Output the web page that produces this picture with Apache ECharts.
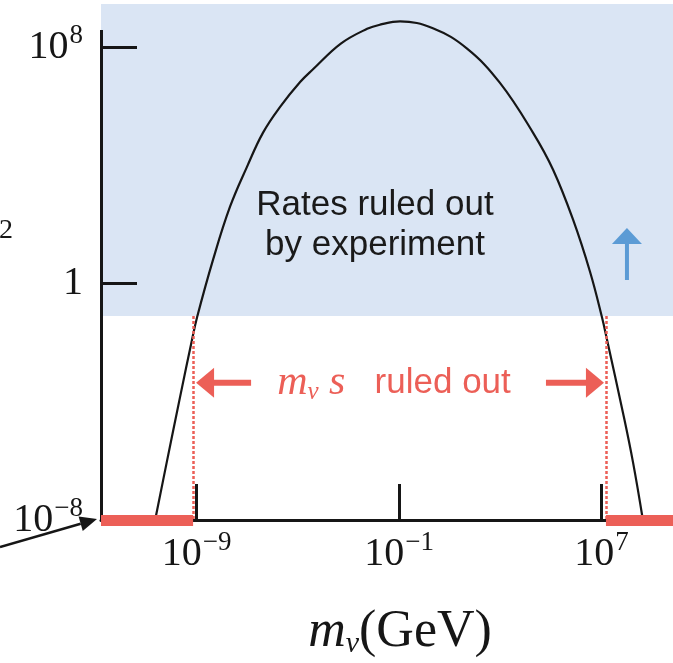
<!DOCTYPE html>
<html>
<head>
<meta charset="utf-8">
<script src="https://cdn.jsdelivr.net/npm/echarts@6/dist/echarts.min.js"></script>
<style>
  html, body { margin: 0; padding: 0; background: #fff; }
  #chart { width: 673px; height: 663px; }
</style>
</head>
<body>
<div id="chart"></div>
<script>
// Rate curve, both coordinates as log10 values (mass in GeV, rate)
const massExp = [-10.64, -10.17, -9.66, -9.18, -8.98, -8.35, -7.68, -7.01, -6.38, -5.70, -4.91, -4.40, -3.30, -2.26, -1.75, -0.96,
                 0.34, 1.69, 2.99, 4.30, 5.09, 5.88, 6.55, 7.02, 7.22, 7.85, 8.25, 8.64];
const rateExp = [-8.0, -6.0, -3.86, -1.89, -1.13, 0.81, 2.60, 3.95, 5.10, 5.98, 6.82, 7.25, 8.12, 8.62, 8.76, 8.87,
                 8.64, 7.95, 6.79, 5.10, 3.85, 2.16, 0.40, -1.13, -1.89, -4.36, -6.05, -8.0];

// Experimental bound on the rate and the masses it excludes (log10)
const rateBound = -1.1;
const excludedBelow = -9.14;
const excludedAbove = 7.18;

// Tick values (log10)
const xTickExp = [-9, -1, 7];
const yTickExp = [-8, 0, 8];
const yTickMarks = [0, 8];

// Axis extents (log10)
const xMin = -12.78, xMax = 9.83;
const yMin = -8, yMax = 9.46;
const yAxisTop = 8.58;

// Annotation anchors (log10 data coordinates)
const boundCaptionAt = [-1.95, 1.98];
const massCaptionAt = [-1.2, -3.36];
const upArrowTipAt = [8.01, 1.88];

const INK = '#161616';
const RED = '#ec5f57';
const BAND = '#dae5f4';
const BLUE = '#5b9bd5';

const expLabel = v => {
  const n = Math.round(v);
  return n === 0 ? '{b|1}' : '{b|10}{s|' + (n < 0 ? '\u2212' + (-n) : n) + '}';
};
const tickRich = {
  b: { fontFamily: 'Liberation Serif', fontSize: 40, lineHeight: 40, padding: [12, 0, 12, 0], color: INK },
  s: { fontFamily: 'Liberation Serif', fontSize: 27, lineHeight: 27, padding: [0, 0, 23, 1], color: INK }
};

const chart = echarts.init(document.getElementById('chart'), null, { renderer: 'canvas' });

const curve = massExp.map((m, i) => [m, rateExp[i]]);

chart.setOption({
  animation: false,
  backgroundColor: '#fff',
  grid: { left: 101, right: 0, top: 4, bottom: 143 },
  xAxis: {
    type: 'value', min: xMin, max: xMax,
    splitLine: { show: false },
    axisLine: { onZero: false, lineStyle: { color: INK, width: 3 } },
    axisTick: { customValues: xTickExp, inside: true, length: 36, lineStyle: { color: INK, width: 3 } },
    axisLabel: { customValues: xTickExp, margin: 14, formatter: expLabel, rich: tickRich }
  },
  yAxis: {
    type: 'value', min: yMin, max: yMax, z: 5,
    splitLine: { show: false },
    axisLine: { show: true, onZero: false, lineStyle: { color: 'rgba(0,0,0,0)', width: 0 } },
    axisTick: { show: true, customValues: yTickMarks, inside: true, length: 36, lineStyle: { color: INK, width: 3 } },
    axisLabel: { customValues: yTickExp, margin: 18, formatter: expLabel, rich: tickRich }
  },
  series: [
    {
      // excluded-rate band
      type: 'line', data: [[xMin, yMin]], showSymbol: false, silent: true, z: 1,
      lineStyle: { width: 0 },
      markArea: { silent: true, itemStyle: { color: BAND }, data: [[{ yAxis: rateBound }, { yAxis: yMax }]] }
    },
    {
      type: 'line', data: curve, smooth: 0.4, showSymbol: false, silent: true, clip: false, z: 3,
      lineStyle: { color: INK, width: 2.2 }
    },
    {
      // vertical axis line, excluded mass ranges and their edges
      type: 'line', data: [[xMin, yMin]], showSymbol: false, silent: true, clip: false, z: 6,
      lineStyle: { width: 0 },
      markLine: {
        silent: true, symbol: 'none', label: { show: false }, animation: false,
        data: [
          [{ coord: [xMin, yMin], lineStyle: { color: INK, width: 3, type: 'solid' } }, { coord: [xMin, yAxisTop] }],
          [{ coord: [xMin, yMin], lineStyle: { color: RED, width: 11, type: 'solid', cap: 'butt' } }, { coord: [excludedBelow, yMin] }],
          [{ coord: [excludedAbove, yMin], lineStyle: { color: RED, width: 11, type: 'solid', cap: 'butt' } }, { coord: [xMax, yMin] }],
          [{ coord: [excludedBelow, rateBound], lineStyle: { color: RED, width: 2.5, type: [3, 2] } }, { coord: [excludedBelow, yMin] }],
          [{ coord: [excludedAbove, rateBound], lineStyle: { color: RED, width: 2.5, type: [3, 2] } }, { coord: [excludedAbove, yMin] }]
        ]
      }
    }
  ]
});

// Annotations placed from data coordinates
const px = p => chart.convertToPixel({ gridIndex: 0 }, p);
const origin = px([xMin, yMin]);
const lowEdge = px([excludedBelow, massCaptionAt[1]]);
const highEdge = px([excludedAbove, massCaptionAt[1]]);
const cap1 = px(boundCaptionAt);
const cap2 = px(massCaptionAt);
const upTip = px(upArrowTipAt);

// arrow pointing at the origin corner
const tip = [origin[0] - 4, origin[1] - 1];
const tail = [0, origin[1] + 27];
const dx = tip[0] - tail[0], dy = tip[1] - tail[1];
const len = Math.hypot(dx, dy);
const ux = dx / len, uy = dy / len;
const head = 17, halfW = 7.5;
const baseC = [tip[0] - head * ux, tip[1] - head * uy];

const graphics = [
  {
    type: 'text', silent: true, z: 10,
    style: {
      text: 'Rates ruled out\nby experiment', x: cap1[0], y: cap1[1],
      align: 'center', verticalAlign: 'middle',
      fontFamily: 'Liberation Sans', fontSize: 35, lineHeight: 40, fill: '#1a1a1a'
    }
  },
  // upward arrow
  { type: 'line', silent: true, z: 10, shape: { x1: upTip[0], y1: upTip[1] + 12, x2: upTip[0], y2: upTip[1] + 52 }, style: { stroke: BLUE, lineWidth: 4 } },
  { type: 'polygon', silent: true, z: 10, shape: { points: [[upTip[0], upTip[1]], [upTip[0] - 15, upTip[1] + 16], [upTip[0] + 15, upTip[1] + 16]] }, style: { fill: BLUE } },
  // inward arrows toward the excluded edges
  { type: 'line', silent: true, z: 10, shape: { x1: lowEdge[0] + 14, y1: lowEdge[1], x2: lowEdge[0] + 58, y2: lowEdge[1] }, style: { stroke: RED, lineWidth: 6 } },
  { type: 'polygon', silent: true, z: 10, shape: { points: [[lowEdge[0] + 3, lowEdge[1]], [lowEdge[0] + 21, lowEdge[1] - 15], [lowEdge[0] + 21, lowEdge[1] + 15]] }, style: { fill: RED } },
  { type: 'line', silent: true, z: 10, shape: { x1: highEdge[0] - 14, y1: highEdge[1], x2: highEdge[0] - 60, y2: highEdge[1] }, style: { stroke: RED, lineWidth: 6 } },
  { type: 'polygon', silent: true, z: 10, shape: { points: [[highEdge[0] - 2, highEdge[1]], [highEdge[0] - 20, highEdge[1] - 15], [highEdge[0] - 20, highEdge[1] + 15]] }, style: { fill: RED } },
  {
    type: 'text', silent: true, z: 10,
    style: {
      text: '{mi|m}{sub|\u03bd}{mi| s}{sans|   ruled out}', x: cap2[0], y: cap2[1],
      align: 'center', verticalAlign: 'middle',
      rich: {
        mi: { fontFamily: 'Liberation Serif', fontStyle: 'italic', fontSize: 42, lineHeight: 44, fill: RED },
        sub: { fontFamily: 'Liberation Serif', fontStyle: 'italic', fontSize: 25, lineHeight: 25, padding: [19, 0, 0, 0], fill: RED },
        sans: { fontFamily: 'Liberation Sans', fontSize: 35, lineHeight: 44, fill: RED }
      }
    }
  },
  // arrow to the origin
  { type: 'line', silent: true, z: 10, shape: { x1: tail[0], y1: tail[1], x2: baseC[0], y2: baseC[1] }, style: { stroke: INK, lineWidth: 2.5 } },
  { type: 'polygon', silent: true, z: 10, shape: { points: [tip, [baseC[0] + halfW * uy, baseC[1] - halfW * ux], [baseC[0] - halfW * uy, baseC[1] + halfW * ux]] }, style: { fill: INK } },
  // x axis title
  {
    type: 'text', silent: true, z: 10,
    style: {
      text: '{mi|m}{sub|\u03bd}{rm|(GeV)}', x: 400, y: 632,
      align: 'center', verticalAlign: 'middle',
      rich: {
        mi: { fontFamily: 'Liberation Serif', fontStyle: 'italic', fontSize: 52, lineHeight: 54, fill: INK },
        sub: { fontFamily: 'Liberation Serif', fontStyle: 'italic', fontSize: 30, lineHeight: 30, padding: [24, 0, 0, 0], fill: INK },
        rm: { fontFamily: 'Liberation Serif', fontSize: 52, lineHeight: 54, fill: INK }
      }
    }
  },
  // trailing exponent of the vertical axis title
  {
    type: 'text', silent: true, z: 10,
    style: { text: '2', x: -1, y: 231, align: 'left', verticalAlign: 'middle', fontFamily: 'Liberation Serif', fontSize: 28, fill: INK }
  }
];

chart.setOption({ graphic: graphics });
</script>
</body>
</html>
